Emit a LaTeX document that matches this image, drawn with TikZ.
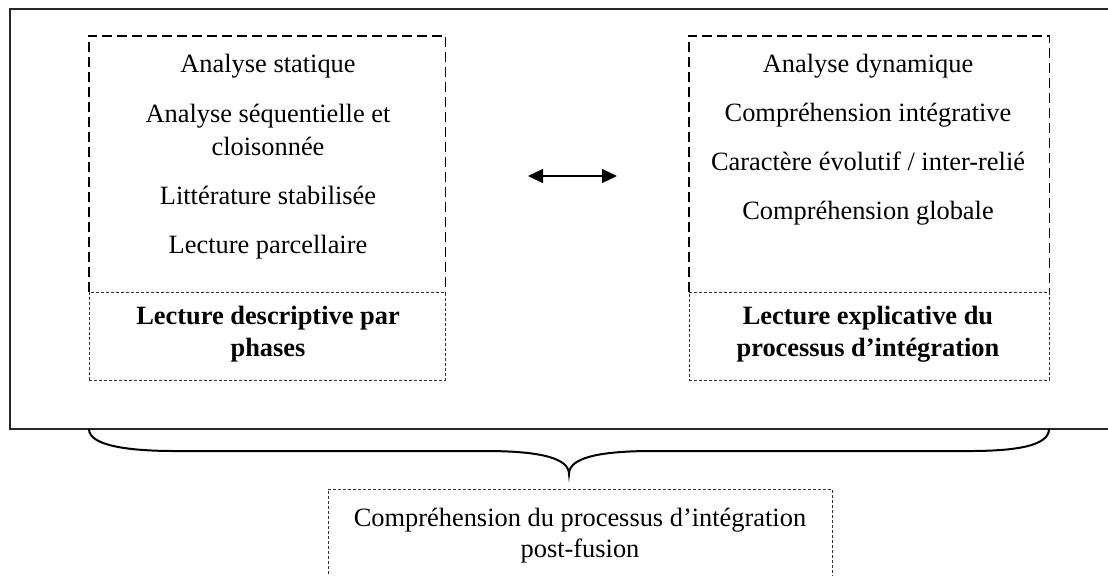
\documentclass[tikz,border=0pt]{standalone}
\usepackage{fontspec}
\setmainfont{Liberation Serif}
\usetikzlibrary{arrows.meta}
\begin{document}
\begin{tikzpicture}[x=0.5pt,y=-0.5pt,
  txt/.style={anchor=base,inner sep=0pt,font=\fontsize{13.2}{16.5}\selectfont},
  btxt/.style={txt,font=\fontsize{13.2}{16.5}\selectfont\bfseries},
  frame/.style={draw=black!85,line width=1pt},
  bigdash/.style={draw=black,line width=0.9pt,dash pattern=on 5pt off 2.5pt},
  smalldash/.style={draw=black!80,line width=0.45pt,dash pattern=on 1.6pt off 0.9pt},
  boxnode/.style={rectangle,inner sep=0pt,minimum width=#1},
]
\useasboundingbox (0,0) rectangle (1108,575);
% outer frame (open on the right)
\draw[frame] (1120,9) -- (10,9) -- (10,429) -- (1120,429);

% upper boxes
\node[boxnode=178pt,minimum height=128pt] (lu) at (267,164) {};
\node[boxnode=180pt,minimum height=128pt] (ru) at (869,164) {};
\draw[bigdash] (lu.south west) -- (lu.north west) -- (lu.north east) -- (lu.south east);
\draw[bigdash] (ru.south west) -- (ru.north west) -- (ru.north east) -- (ru.south east);

% lower boxes
\node[boxnode=178pt,minimum height=44pt,smalldash,fill=white] (ll) at (267,336) {};
\node[boxnode=180pt,minimum height=44pt,smalldash,fill=white] (rl) at (869,336) {};

% left texts
\node[txt] (l1) at (268,72) {Analyse statique};
\node[txt] (l2) at (268,122) {Analyse séquentielle et};
\node[txt] (l3) at (268,155) {cloisonnée};
\node[txt] (l4) at (268,204) {Littérature stabilisée};
\node[txt] (l5) at (268,253) {Lecture parcellaire};
\node[btxt] (l6) at (268,324) {Lecture descriptive par};
\node[btxt] (l7) at (268,356) {phases};

% right texts
\node[txt] (r1) at (868,72) {Analyse dynamique};
\node[txt] (r2) at (868,121) {Compréhension intégrative};
\node[txt] (r3) at (868,170) {Caractère évolutif / inter-relié};
\node[txt] (r4) at (868,219) {Compréhension globale};
\node[btxt] (r6) at (868,324) {Lecture explicative du};
\node[btxt] (r7) at (868,356) {processus d’intégration};

% double arrow
\coordinate (al) at (528,176);
\coordinate (ar) at (617,176);
\draw[line width=0.6pt,{Triangle[length=7.5pt,width=7pt]}-{Triangle[length=7.5pt,width=7pt]}] (al) -- (ar);

% brace
\coordinate (bl) at (89,429);
\coordinate (bt) at (569,474);
\coordinate (br) at (1049,429);
\draw[line width=1pt] (bl) .. controls (89,446) and (130,451) .. (175,451)
  -- (485,451) .. controls (540,451) and (569,458) .. (bt)
  .. controls (569,458) and (598,451) .. (653,451)
  -- (970,451) .. controls (1015,451) and (1049,446) .. (br);

% bottom box (open below the page)
\node[boxnode=252pt,minimum height=75pt,smalldash] (bb) at (580,564) {};
\node[txt] (b1) at (580,526) {Compréhension du processus d’intégration};
\node[txt] (b2) at (580,557) {post-fusion};
\end{tikzpicture}
\end{document}
